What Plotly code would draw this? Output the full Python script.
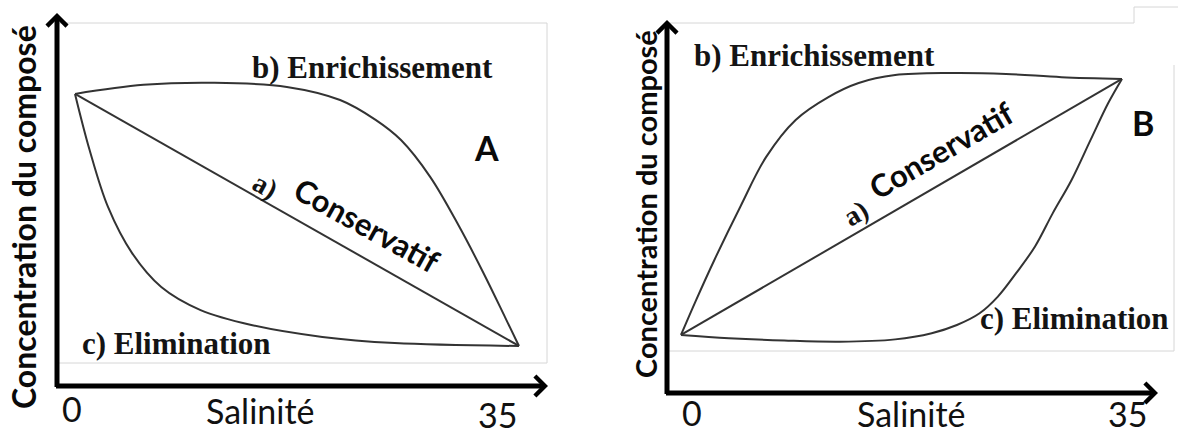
import plotly.graph_objects as go

# ---------------- data (salinity vs. concentration, arbitrary units) ----------------
tick_values = [0, 35]
tick_labels = ["0", "35"]

# Panel A : concentration decreasing with salinity
sal_A_enrich = [0, 5.4, 11.0, 16.7, 20.9, 23.7, 25.7, 28.0, 30.3, 32.2, 33.9, 35]
conc_A_enrich = [100, 103.1, 103.8, 102.4, 97.9, 91.1, 84.2, 71.6, 54.5, 38.7, 23.6, 13.7]
sal_A_elim = [0, 1.15, 2.6, 4.5, 6.8, 9.9, 13.9, 19.5, 25.2, 35]
conc_A_elim = [100, 80.8, 61.3, 45.5, 33.9, 26.0, 20.9, 16.8, 14.7, 13.7]
sal_A_cons = [0, 35]
conc_A_cons = [100, 13.7]

# Panel B : concentration increasing with salinity
sal_B_enrich = [0, 1.2, 2.65, 4.7, 6.75, 9.1, 11.7, 14.1, 17.0, 21.4, 25.8, 30.2, 35]
conc_B_enrich = [19.8, 31.7, 45.4, 63.5, 80.5, 93.2, 101.0, 105.8, 108.5, 109.2, 108.9, 107.8, 107.2]
sal_B_elim = [0, 3.8, 8.2, 12.6, 17.0, 19.9, 21.9, 23.7, 25.15, 26.6, 28.1, 29.5, 31.0, 32.5, 33.9, 35]
conc_B_elim = [19.8, 18.7, 17.9, 17.5, 18.3, 20.4, 23.2, 27.2, 32.9, 40.9, 50.0, 61.3, 72.7, 86.3, 98.9, 107.2]
sal_B_cons = [0, 35]
conc_B_cons = [19.8, 107.2]

# ---------------- layout helpers ----------------
W, H = 1178, 437
def PX(x):
    return x / W
def PY(y):
    return 1 - y / H

LINE = dict(color="#333333", width=2)
SERIF = dict(family="Liberation Serif", size=31, color="#141414")
SANS_B = dict(family="Lato", size=31, color="#0a0a0a")
SANS = dict(family="Lato", size=34, color="#111111")

fig = go.Figure()
for xs, ys in [(sal_A_enrich, conc_A_enrich), (sal_A_elim, conc_A_elim), (sal_A_cons, conc_A_cons)]:
    fig.add_trace(go.Scatter(x=xs, y=ys, mode="lines", line=dict(LINE, shape="spline", smoothing=1.0),
                             xaxis="x", yaxis="y", showlegend=False, hoverinfo="skip"))
for xs, ys in [(sal_B_enrich, conc_B_enrich), (sal_B_elim, conc_B_elim), (sal_B_cons, conc_B_cons)]:
    fig.add_trace(go.Scatter(x=xs, y=ys, mode="lines", line=dict(LINE, shape="spline", smoothing=1.0),
                             xaxis="x2", yaxis="y2", showlegend=False, hoverinfo="skip"))

ax_common = dict(showgrid=False, zeroline=False, showline=False, showticklabels=False, ticks="", fixedrange=True)
fig.update_layout(
    width=W, height=H, autosize=False,
    margin=dict(l=0, r=0, t=0, b=0),
    paper_bgcolor="white", plot_bgcolor="rgba(0,0,0,0)",
    xaxis=dict(ax_common, domain=[PX(57), PX(548)], range=[-1.42, 37.29], anchor="y"),
    yaxis=dict(ax_common, domain=[PY(386), PY(13)], range=[0, 127.7], anchor="x"),
    xaxis2=dict(ax_common, domain=[PX(667), PX(1158)], range=[-1.11, 37.86], anchor="y2"),
    yaxis2=dict(ax_common, domain=[PY(393), PY(20)], range=[0, 127.3], anchor="x2"),
)

# light frames of the original figure
fig.add_shape(type="rect", xref="paper", yref="paper", x0=PX(57), x1=PX(547), y0=PY(363), y1=PY(23),
              line=dict(color="#d6d6d6", width=1), layer="below")
fig.add_shape(type="path", xref="paper", yref="paper",
              path=f"M{PX(667)},{PY(23)} L{PX(1134)},{PY(23)} L{PX(1134)},{PY(7)} L{PX(1178)},{PY(7)}",
              line=dict(color="#d6d6d6", width=1), layer="below")
fig.add_shape(type="path", xref="paper", yref="paper",
              path=f"M{PX(1174)},{PY(65)} L{PX(1174)},{PY(351)} L{PX(667)},{PY(351)}",
              line=dict(color="#d6d6d6", width=1), layer="below")

# axis arrows
def arrow(tipx, tipy, ax, ay):
    fig.add_annotation(xref="paper", yref="paper", x=PX(tipx), y=PY(tipy), ax=ax, ay=ay,
                       text="", showarrow=True, arrowhead=4, arrowwidth=5, arrowsize=0.77,
                       arrowcolor="black", standoff=0, startstandoff=0)
arrow(548, 386, -493.5, 0)
arrow(57, 13, 0, 375.5)
arrow(1158, 393, -493.5, 0)
arrow(667, 20, 0, 375.5)

def label(text, x, y, font, angle=0):
    fig.add_annotation(xref="paper", yref="paper", x=PX(x), y=PY(y), text=text, showarrow=False,
                       font=font, textangle=angle, xanchor="center", yanchor="middle")

# y titles
label("<b>Concentration du composé</b>", 23, 217, dict(SANS_B, size=32), -90)
label("<b>Concentration du composé</b>", 645, 204, dict(SANS_B, size=29), -90)
# x titles
label("Salinité", 260, 410, SANS)
label("Salinité", 911, 413, SANS)
# tick labels (0 and 35)
for (xa, shifts, yy) in [("x", [-3, -21], [408, 414]), ("x2", [11, 6], [412, 413])]:
    for v, t, s, yv in zip(tick_values, tick_labels, shifts, yy):
        fig.add_annotation(xref=xa, yref="paper", x=v, y=PY(yv), text=t, showarrow=False, xshift=s,
                           font=SANS, xanchor="center", yanchor="middle")

# panel A texts
label("<b>b) Enrichissement</b>", 372, 68, SERIF)
label("<b>c) Elimination</b>", 176, 343, SERIF)
label("<b>A</b>", 486, 147, dict(SANS_B, size=34))
label("<b>a)</b>", 265, 185, dict(SERIF, size=28), 29)
label("<b>Conservatif</b>", 367, 225, dict(SANS_B, size=31), 29)
# panel B texts
label("<b>b) Enrichissement</b>", 814, 55, SERIF)
label("<b>c) Elimination</b>", 1074, 318, SERIF)
label("<b>B</b>", 1143, 122, dict(SANS_B, size=34))
label("<b>a)</b>", 855, 213, dict(SERIF, size=28), -30)
label("<b>Conservatif</b>", 941, 150, dict(SANS_B, size=31), -30)

fig.write_html("out.html", config={"displayModeBar": False, "staticPlot": True},
               post_script="document.body.style.margin='0';document.body.style.overflow='hidden';")
